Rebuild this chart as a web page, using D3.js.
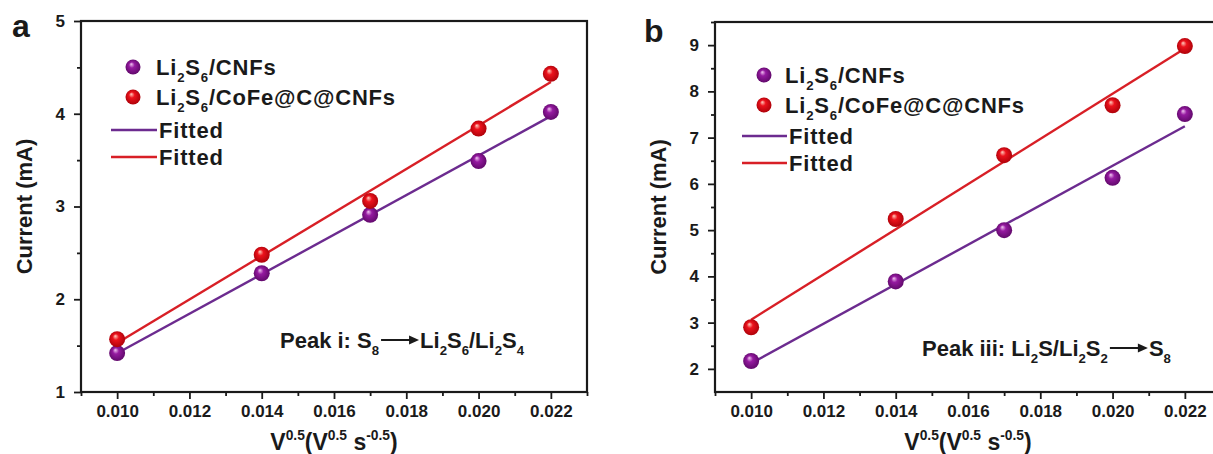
<!DOCTYPE html>
<html>
<head>
<meta charset="utf-8">
<script src="https://cdn.jsdelivr.net/npm/d3@7"></script>
<style>
  body { margin: 0; background: #fff; }
  svg { display: block; font-family: Arial, "Liberation Sans", sans-serif; }
  .tick text { font-weight: bold; font-size: 17px; fill: #1a1a1a; }
  .tick line { stroke: #1a1a1a; stroke-width: 1.8; }
  .label { font-weight: bold; fill: #1a1a1a; }
</style>
</head>
<body>
<script>
const WIDTH = 1213;
const HEIGHT = 454;

// scan rates (square root) shared by both panels
const sqrtRate = [0.010, 0.014, 0.017, 0.020, 0.022];
const xTicks = [0.010, 0.012, 0.014, 0.016, 0.018, 0.020, 0.022];
const xMinorTicks = [0.009, 0.011, 0.013, 0.015, 0.017, 0.019, 0.021, 0.023];

// peak i currents (mA)
const peakI_cnfs = [1.42, 2.28, 2.91, 3.49, 4.02];
const peakI_cofe = [1.57, 2.48, 3.06, 3.84, 4.43];
const yTicksA = [1, 2, 3, 4, 5];
const yMinorA = [1.5, 2.5, 3.5, 4.5];

// peak iii currents (mA)
const peakIII_cnfs = [2.17, 3.89, 5.00, 6.13, 7.51];
const peakIII_cofe = [2.90, 5.24, 6.62, 7.70, 8.98];
const yTicksB = [2, 3, 4, 5, 6, 7, 8, 9];
const yMinorB = [2.5, 3.5, 4.5, 5.5, 6.5, 7.5, 8.5, 9.5];

const PURPLE = '#6c2b8f';
const RED = '#d81f26';

const svg = d3.select('body').append('svg')
    .attr('width', WIDTH)
    .attr('height', HEIGHT);

const defs = svg.append('defs');
function sphereGradient(id, hi, base, dark) {
  const g = defs.append('radialGradient')
      .attr('id', id)
      .attr('cx', '50%').attr('cy', '50%').attr('r', '55%')
      .attr('fx', '38%').attr('fy', '30%');
  g.append('stop').attr('offset', '0%').attr('stop-color', hi);
  g.append('stop').attr('offset', '35%').attr('stop-color', base);
  g.append('stop').attr('offset', '100%').attr('stop-color', dark);
}
sphereGradient('ballPurple', '#f2c6f2', '#951aa0', '#5c0766');
sphereGradient('ballRed', '#ffd0c0', '#ec121c', '#a80008');

// least-squares line through the points
function fit(xs, ys) {
  const mx = d3.mean(xs), my = d3.mean(ys);
  const sxy = d3.sum(xs, (x, i) => (x - mx) * (ys[i] - my));
  const sxx = d3.sum(xs, x => (x - mx) * (x - mx));
  const k = sxy / sxx;
  return x => my + k * (x - mx);
}

// text with sub/superscripts, parts = [[string, 'sub'|'sup'|null], ...]
function richText(g, x, y, parts, size) {
  const t = g.append('text')
      .attr('class', 'label')
      .attr('x', x).attr('y', y)
      .style('font-size', size + 'px');
  let shift = 0;
  parts.forEach(([s, kind]) => {
    const target = kind === 'sub' ? size * 0.3 : kind === 'sup' ? -size * 0.42 : 0;
    t.append('tspan')
        .attr('dy', target - shift)
        .style('font-size', kind ? (size * 0.6) + 'px' : null)
        .text(s);
    shift = target;
  });
  return t;
}

function drawPanel(p) {
  const g = svg.append('g');
  const x = d3.scaleLinear().domain([0.009, 0.023]).range([p.left, p.right]);
  const y = d3.scaleLinear().domain(p.yDomain).range([p.bottom, p.top]);

  g.append('g')
      .attr('transform', `translate(0,${p.bottom})`)
      .call(d3.axisBottom(x).tickValues(xMinorTicks).tickSize(4).tickFormat(''))
      .call(a => a.select('.domain').remove());
  g.append('g')
      .attr('transform', `translate(0,${p.bottom})`)
      .call(d3.axisBottom(x).tickValues(xTicks).tickSize(7).tickPadding(6).tickFormat(d3.format('.3f')))
      .call(a => a.select('.domain').remove());
  g.append('g')
      .attr('transform', `translate(${p.left},0)`)
      .call(d3.axisLeft(y).tickValues(p.yMinor).tickSize(4).tickFormat(''))
      .call(a => a.select('.domain').remove());
  g.append('g')
      .attr('transform', `translate(${p.left},0)`)
      .call(d3.axisLeft(y).tickValues(p.yTicks).tickSize(7).tickPadding(9).tickFormat(d3.format('d')))
      .call(a => a.select('.domain').remove());

  g.append('rect')
      .attr('x', p.left).attr('y', p.top)
      .attr('width', p.right - p.left).attr('height', p.bottom - p.top)
      .attr('fill', 'none').attr('stroke', '#1a1a1a').attr('stroke-width', 2.2);

  // fitted lines
  p.series.forEach(s => {
    const f = fit(sqrtRate, s.values);
    const ends = [sqrtRate[0], sqrtRate[sqrtRate.length - 1]];
    g.append('line')
        .attr('x1', x(ends[0])).attr('y1', y(f(ends[0])))
        .attr('x2', x(ends[1])).attr('y2', y(f(ends[1])))
        .attr('stroke', s.line).attr('stroke-width', 2.4);
  });

  // measured points
  p.series.forEach(s => {
    g.selectAll(null)
      .data(sqrtRate.map((v, i) => [v, s.values[i]]))
      .enter().append('circle')
        .attr('cx', d => x(d[0]))
        .attr('cy', d => y(d[1]))
        .attr('r', 8)
        .attr('fill', `url(#${s.ball})`);
  });

  // legend
  const L = p.legend;
  p.series.forEach((s, i) => {
    g.append('circle')
        .attr('cx', L.ballX).attr('cy', L.rows[i] - 8).attr('r', 7.5)
        .attr('fill', `url(#${s.ball})`);
    richText(g, L.textX, L.rows[i], s.name, 22).style('letter-spacing', '0.8px');
  });
  p.series.forEach((s, i) => {
    const yy = L.rows[i + 2];
    g.append('line')
        .attr('x1', L.lineX0).attr('x2', L.lineX1)
        .attr('y1', yy - 8).attr('y2', yy - 8)
        .attr('stroke', s.line).attr('stroke-width', 2.4);
    g.append('text').attr('class', 'label')
        .attr('x', L.lineX1 + 2).attr('y', yy)
        .style('font-size', '22px').style('letter-spacing', '0.8px')
        .text('Fitted');
  });

  // reaction annotation with arrow
  const A = p.note;
  const t1 = richText(g, A.x, A.y, A.before, 22);
  const w1 = t1.node().getComputedTextLength();
  const ax0 = A.x + w1 + 2, ax1 = ax0 + 38;
  g.append('line')
      .attr('x1', ax0).attr('x2', ax1 - 6)
      .attr('y1', A.y - 8).attr('y2', A.y - 8)
      .attr('stroke', '#1a1a1a').attr('stroke-width', 2.2);
  g.append('path')
      .attr('d', `M${ax1},${A.y - 8}L${ax1 - 10},${A.y - 12.5}L${ax1 - 10},${A.y - 3.5}Z`)
      .attr('fill', '#1a1a1a');
  richText(g, ax1 + 1, A.y, A.after, 22);

  // axis titles
  g.append('text').attr('class', 'label')
      .attr('transform', `translate(${p.left - 49},${(p.top + p.bottom) / 2}) rotate(-90)`)
      .attr('text-anchor', 'middle')
      .style('font-size', '22px')
      .text('Current (mA)');
  const xt = richText(g, 0, 450,
      [['V', null], ['0.5', 'sup'], ['(V', null], ['0.5', 'sup'], [' s', null], ['-0.5', 'sup'], [')', null]], 23);
  const wt = xt.node().getComputedTextLength();
  xt.attr('x', (x(0.010) + x(0.022)) / 2 - wt / 2);

  svg.append('text').attr('class', 'label')
      .attr('x', p.tag[0]).attr('y', p.tag[1])
      .style('font-size', '32px')
      .text(p.tagText);
}

drawPanel({
  left: 81, right: 587, top: 21, bottom: 392,
  yDomain: [1, 5], yTicks: yTicksA, yMinor: yMinorA,
  series: [
    { values: peakI_cnfs, ball: 'ballPurple', line: PURPLE,
      name: [['Li', null], ['2', 'sub'], ['S', null], ['6', 'sub'], ['/CNFs', null]] },
    { values: peakI_cofe, ball: 'ballRed', line: RED,
      name: [['Li', null], ['2', 'sub'], ['S', null], ['6', 'sub'], ['/CoFe@C@CNFs', null]] }
  ],
  legend: { ballX: 133, textX: 156, lineX0: 111, lineX1: 157, rows: [75, 105, 138, 165] },
  note: {
    x: 280, y: 348,
    before: [['Peak i: S', null], ['8', 'sub']],
    after: [['Li', null], ['2', 'sub'], ['S', null], ['6', 'sub'], ['/Li', null], ['2', 'sub'], ['S', null], ['4', 'sub']]
  },
  tag: [12, 37], tagText: 'a'
});

drawPanel({
  left: 715, right: 1221, top: 22, bottom: 392,
  yDomain: [1.5, 9.5], yTicks: yTicksB, yMinor: yMinorB,
  series: [
    { values: peakIII_cnfs, ball: 'ballPurple', line: PURPLE,
      name: [['Li', null], ['2', 'sub'], ['S', null], ['6', 'sub'], ['/CNFs', null]] },
    { values: peakIII_cofe, ball: 'ballRed', line: RED,
      name: [['Li', null], ['2', 'sub'], ['S', null], ['6', 'sub'], ['/CoFe@C@CNFs', null]] }
  ],
  legend: { ballX: 764, textX: 785, lineX0: 742, lineX1: 787, rows: [83, 113, 144, 171] },
  note: {
    x: 922, y: 356,
    before: [['Peak iii: Li', null], ['2', 'sub'], ['S/Li', null], ['2', 'sub'], ['S', null], ['2', 'sub']],
    after: [['S', null], ['8', 'sub']]
  },
  tag: [644, 42], tagText: 'b'
});
</script>
</body>
</html>
